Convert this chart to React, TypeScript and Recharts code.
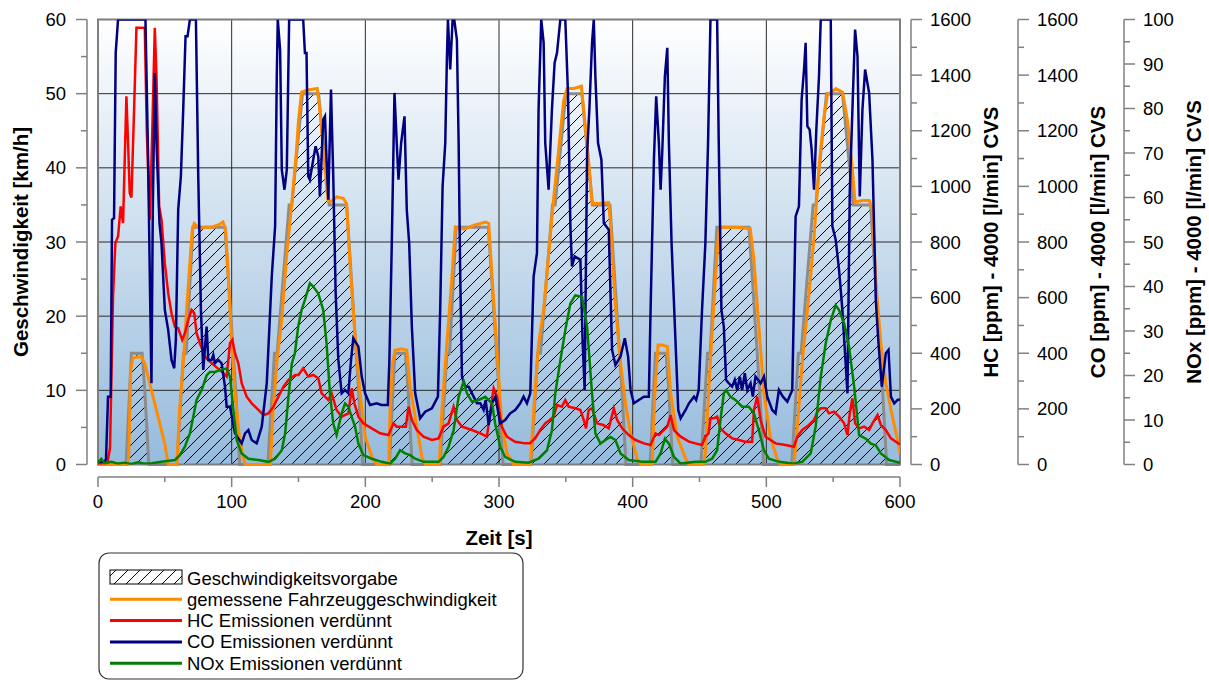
import { ComposedChart, Area, Line, XAxis, YAxis, CartesianGrid, ReferenceArea, Label } from 'recharts'

const AXIS = '#808080'
const FONT = '"Liberation Sans", Arial, sans-serif'
const TICK_SIZE = 18.5
const TITLE_SIZE = 20.5

type Pt = [number, number]

// Geschwindigkeitsvorgabe: Stützpunkte [s, km/h]
const speedTarget: Pt[] = [
  [0, 0], [21, 0], [25, 15], [33, 15], [35, 10], [38, 0], [59, 0], [64, 15], [66, 15], [71, 32], [95, 32], [103, 10],
  [106, 0], [127, 0], [132, 15], [134, 15], [143, 35], [145, 35], [153, 50], [165, 50], [173, 35], [186, 35], [195, 10], [198, 0],
  [218, 0], [222, 15], [230, 15], [232, 10], [235, 0], [256, 0], [261, 15], [263, 15], [268, 32], [292, 32], [300, 10], [303, 0],
  [324, 0], [329, 15], [331, 15], [340, 35], [342, 35], [350, 50], [362, 50], [370, 35], [383, 35], [392, 10], [395, 0],
  [413, 0], [417, 15], [425, 15], [427, 10], [430, 0], [451, 0], [456, 15], [458, 15], [463, 32], [487, 32], [495, 10], [498, 0],
  [519, 0], [524, 15], [526, 15], [535, 35], [537, 35], [545, 50], [557, 50], [565, 35], [578, 35], [587, 10], [590, 0], [600, 0],
]

// gemessene Fahrzeuggeschwindigkeit [km/h]
const speedMeasured: Pt[] = [
  [0, 0], [22, 0], [23, 1], [24.5, 12.7], [26, 14.3], [29, 14.5], [32.5, 14.5], [35, 13.6], [40, 10], [45, 6.4],
  [50, 2.8], [52.5, 0], [59, 0], [61, 7.3], [64, 14.1], [65.5, 18.6], [68, 25.3], [70.5, 31.6], [72, 32.5], [76, 31.8],
  [80, 32], [85, 32], [90, 32.3], [93.5, 32.7], [95.5, 31.6], [97.5, 25.3], [100, 16.3], [102.5, 9.6], [106, 3.3], [110, 0],
  [129, 0], [131, 7.3], [134, 14.1], [137.5, 19.5], [141, 28], [145, 35.2], [148.5, 42.4], [150, 46.4], [152.3, 50.2], [157, 50.5],
  [164, 50.7], [166, 47.8], [168.5, 42.4], [172, 35.6], [174, 35.4], [178.5, 36.1], [183.5, 35.9], [186, 35.2], [188.5, 27.1], [192, 18.1],
  [196, 9.6], [200, 3.7], [205, 1], [208.5, 0], [217.5, 0], [218.5, 7.3], [220.3, 13.6], [222.3, 15.4], [227, 15.6], [231, 15.4],
  [233.5, 10.5], [237.3, 6.4], [242.3, 1], [245, 0], [255.3, 0], [257.3, 7.3], [261, 16.3], [264.8, 25.3], [267.3, 32], [270, 31.8],
  [275, 31.8], [282, 32.3], [290, 32.7], [292.3, 32.5], [294.8, 25.3], [297.3, 18.6], [299, 14], [302, 5.5], [306, 1.5], [311, 0],
  [323.5, 0], [326, 7.3], [329.6, 16.3], [333.4, 20.8], [337, 28], [341, 36.1], [344.6, 42.4], [348.4, 49.1], [351, 50.7], [356, 50.7],
  [361.6, 51], [363.4, 47.8], [367, 41], [369.6, 35.2], [375, 35.2], [382, 35.3], [383.4, 32.5], [387, 21.7], [391, 13.6], [394.6, 8.2],
  [398.4, 4.2], [403.4, 0.8], [406, 0], [414.6, 0], [416.6, 9.6], [419, 16.1], [422, 16.1], [426, 15.9], [428.4, 9.6], [433.4, 3.7],
  [439.6, 0.8], [442, 0], [453, 0], [454.4, 1.5], [458.2, 14.1], [462, 25.3], [464.4, 31.6], [467, 32], [477, 32], [488, 31.8],
  [490.7, 27.6], [494.4, 18.6], [498.2, 9.6], [503, 3.7], [508, 0.8], [510.7, 0], [520.7, 0], [523.2, 5.1], [527, 14.1], [532, 23.1],
  [535.7, 30.7], [539.4, 40.1], [543.2, 46.9], [545.7, 49.8], [552, 50.7], [557, 50.2], [560.7, 46.4], [564.4, 39.7], [566.4, 35.4], [572, 35.6],
  [577, 35.6], [579.4, 34.3], [582, 24.4], [585.7, 16.3], [589.4, 10.9], [594.4, 6.4], [598.2, 3.3], [600, 1.5],
]

// HC verdünnt [ppm]
const hc: Pt[] = [
  [0, 2], [7, 5], [9, 60], [11.25, 604], [13, 796], [15, 820], [17, 928], [18.75, 868], [21.25, 1324], [22.5, 1156],
  [23.75, 976], [25, 960], [27, 1276], [28.75, 1570], [35, 1570], [36.5, 1200], [38.75, 880], [40.5, 1180], [42.5, 1570], [43.75, 1396],
  [45.75, 928], [47.5, 880], [50, 724], [52.5, 616], [55, 544], [57.5, 496], [60, 490], [63, 448], [65, 472], [67.5, 520],
  [70, 556], [72, 545], [73.75, 472], [76.25, 436], [80, 388], [83.75, 370], [88, 352], [92.5, 334], [96.25, 316], [98.75, 436],
  [100.5, 448], [102.5, 400], [105, 364], [107.5, 292], [111.25, 244], [115, 220], [120, 196], [123.75, 178], [127.5, 184], [131.25, 208],
  [135, 244], [138.75, 280], [142.5, 304], [147.5, 322], [150, 322], [153.5, 346], [157.3, 316], [161, 322], [164.8, 310], [167.3, 256],
  [172.3, 232], [174.8, 256], [178.5, 196], [182.3, 172], [187.3, 184], [189.8, 274], [191.8, 220], [194.8, 172], [198.5, 148], [204.8, 130],
  [211, 112], [217.3, 106], [221, 148], [223.5, 136], [230.3, 136], [232.3, 208], [234.8, 160], [238.5, 124], [243.5, 100], [249.8, 88],
  [254.8, 94], [258.5, 136], [262.3, 148], [266, 208], [268.5, 160], [272.3, 136], [279.8, 124], [286, 112], [291, 100], [292.3, 148],
  [296, 274], [298.5, 244], [300, 200], [302, 136], [305.9, 100], [312, 82], [319.6, 76], [323, 76], [327, 94], [330.9, 124],
  [334.6, 148], [338, 160], [340.9, 172], [343.4, 214], [347.1, 208], [349.6, 232], [352.1, 208], [357.1, 202], [360.9, 196], [363.4, 160],
  [365.1, 130], [367.1, 196], [369.6, 202], [373.4, 148], [378, 142], [382.1, 130], [385.9, 202], [388.4, 160], [392.1, 130], [397.1, 106],
  [402.1, 88], [408.4, 76], [413.4, 70], [417.1, 112], [419.6, 106], [422.1, 118], [425.9, 136], [428.4, 178], [430.9, 124], [435.9, 100],
  [442.1, 82], [446.9, 76], [451.9, 70], [454.4, 100], [456.8, 112], [458.2, 166], [460.7, 166], [463.2, 172], [465.7, 130], [469.4, 112],
  [474.4, 94], [479.4, 88], [484, 82], [489.4, 82], [490.7, 196], [493.2, 244], [495.7, 160], [499.4, 100], [506.9, 76], [514.4, 70],
  [520.7, 64], [523.2, 100], [526.9, 124], [531.9, 142], [535.7, 160], [538.2, 190], [540.7, 202], [544.4, 202], [546.9, 184], [550.6, 190],
  [554.4, 172], [558.2, 148], [560.7, 106], [562.4, 184], [564.4, 238], [566.4, 148], [569.4, 130], [573.2, 136], [576.9, 124], [579.4, 148],
  [583.2, 178], [585.7, 142], [589.4, 124], [593.2, 94], [596.9, 82], [600, 72],
]

// CO verdünnt [ppm], Anzeige begrenzt auf 1600
const co: Pt[] = [
  [0, 10], [5, 10], [6, 20], [7.5, 244], [9.5, 244], [10.5, 880], [12, 886], [13.25, 1480], [15, 1600], [35.5, 1600],
  [37.5, 1096], [39, 600], [40, 292], [41, 916], [42.5, 1408], [43.75, 1156], [46, 868], [47.5, 796], [50, 556], [52.5, 484],
  [55, 376], [57, 346], [58.25, 448], [60, 916], [62, 1036], [63.75, 1276], [65.5, 1540], [67, 1540], [68.75, 1600], [73.25, 1600],
  [75, 1036], [77, 556], [78.75, 340], [81.25, 496], [82.5, 376], [85, 376], [86.25, 394], [87.5, 364], [90, 376], [92.5, 364],
  [95, 280], [96.25, 208], [98.75, 208], [102.5, 112], [107.5, 76], [110, 112], [112.5, 124], [115, 88], [118.75, 76], [122.5, 136],
  [126.25, 292], [130, 676], [132.5, 856], [133.75, 1396], [134.5, 1600], [136.25, 1490], [137.5, 1060], [139.5, 988], [141.25, 1060], [143, 1600],
  [153.5, 1600], [154.8, 1480], [156, 1480], [157.3, 1036], [158.5, 1024], [161, 1096], [162.8, 1144], [164.8, 1108], [166, 964], [168.5, 1240],
  [169.8, 1252], [171, 1096], [172.3, 952], [174.3, 1348], [176, 1036], [177.8, 616], [179.8, 376], [182.3, 256], [184.8, 268], [187.3, 256],
  [189.3, 376], [191, 454], [194.8, 424], [197.3, 316], [199.8, 256], [203.5, 214], [208.5, 220], [212, 214], [216.8, 214], [218, 376],
  [219.8, 796], [221.8, 1336], [223.5, 1156], [224.8, 1024], [226.8, 1156], [229.3, 1252], [231, 916], [232.8, 796], [234.8, 496], [237.3, 256],
  [241, 166], [244.8, 190], [249.8, 202], [254.3, 244], [256, 556], [257.8, 1000], [259.8, 1156], [261, 1456], [261.8, 1600], [263.5, 1420],
  [265.3, 1600], [266.5, 1600], [268.5, 1528], [269.8, 1156], [271, 676], [272.3, 316], [274.8, 280], [277.3, 280], [281, 244], [283.5, 220],
  [286, 220], [288.5, 196], [290, 232], [292.3, 142], [294.8, 220], [297.3, 244], [300.9, 148], [304.6, 160], [308.4, 184], [312.1, 196],
  [315.9, 220], [318.4, 244], [320.9, 220], [323.4, 256], [325.9, 676], [328.4, 760], [329.6, 1276], [331.6, 1600], [333.4, 1516], [334.6, 1156],
  [337.1, 988], [339.6, 1276], [341.6, 1444], [343.4, 1480], [345.9, 1600], [349.6, 1600], [351.6, 1336], [353.4, 856], [354.6, 712], [356.6, 748],
  [360.9, 736], [362.6, 436], [364.1, 268], [365.9, 1120], [367.6, 1276], [369.6, 1516], [370.9, 1600], [372.1, 1396], [374.1, 1156], [376.6, 1096],
  [378.4, 868], [382.1, 844], [384.6, 412], [387.1, 358], [390.9, 388], [394.1, 454], [396.6, 388], [398.4, 268], [400.9, 220], [404.6, 232],
  [408.4, 244], [412.1, 244], [413.4, 556], [415.9, 1096], [417.6, 1324], [419.6, 1156], [420.9, 988], [422.1, 1120], [424.1, 1396], [425.9, 1498],
  [427.1, 1156], [429.1, 796], [432.1, 436], [434.1, 196], [435.9, 166], [439.6, 196], [442.1, 220], [445.9, 244], [447.5, 232], [449.4, 268],
  [451.9, 556], [454.4, 796], [456.4, 1156], [458.2, 1600], [463.2, 1600], [464.4, 1156], [466.4, 556], [468.2, 496], [469.9, 304], [471.9, 292],
  [474.4, 280], [476.4, 304], [478.2, 268], [480.2, 316], [481.9, 268], [483.9, 328], [485.7, 268], [488.2, 292], [489.9, 244], [491.9, 316],
  [493.9, 304], [495.7, 292], [498.2, 316], [500.7, 244], [504.4, 196], [506.9, 184], [509.4, 268], [512.4, 244], [515.7, 226], [519.4, 268],
  [521.9, 892], [524.4, 928], [526.4, 1312], [528.2, 1420], [529.4, 1516], [530.7, 1216], [532.4, 1204], [533.9, 1132], [535.7, 988], [537.4, 1204],
  [539.4, 1396], [540.7, 1600], [548.2, 1600], [549.4, 856], [551.9, 808], [554.4, 700], [556.9, 556], [560.7, 256], [562.4, 976], [564.4, 1276],
  [566.4, 1564], [568.2, 1468], [569.9, 964], [571.9, 1276], [573.9, 1420], [576.9, 1336], [579.4, 1096], [581.9, 592], [583.9, 436], [586.4, 280],
  [589.4, 400], [591.4, 412], [593.2, 244], [595.7, 220], [598.2, 232], [600, 234],
]

// NOx verdünnt [ppm]
const nox: Pt[] = [
  [0, 0.4], [2.5, 1.3], [5, 0.3], [10, 0.6], [15, 0.2], [20, 0.4], [25, 0.1], [30, 0.5], [35, 0.2], [40, 0.3],
  [47.5, 0.6], [52, 0.8], [57.5, 1], [61.25, 2.1], [65, 4], [68.75, 7], [71.25, 10.7], [73.75, 14.5], [77.5, 16.7], [81.25, 20],
  [83.75, 20.8], [87.5, 20.8], [91.25, 21.2], [96.25, 21.6], [98.75, 19.7], [101.25, 12.2], [103.75, 5.5], [107.5, 2.5], [112.5, 1.3], [120, 1],
  [127.5, 0.6], [132.5, 1.3], [137.5, 3.2], [140, 7], [142.5, 15.2], [145, 22.7], [147.3, 25], [149.8, 31], [152.3, 34.7], [154.8, 37],
  [158.5, 40.7], [161, 40], [164.8, 38.4], [168.5, 34.7], [171, 27.2], [173.5, 16], [176, 9.2], [178.5, 6.6], [182.3, 11.5], [184.8, 13.7],
  [187.3, 13], [189.8, 10.7], [192.3, 8.5], [194.8, 4.7], [198.5, 2.1], [204.8, 1.3], [212.3, 0.6], [218.5, 0.2], [222.3, 1.3], [226, 3.2],
  [229.8, 2.5], [233.5, 2.1], [237.3, 1.3], [243.5, 0.6], [254.8, 0.6], [258.5, 1.7], [262.3, 4], [266, 7.7], [269.8, 15.2], [273.5, 18.6],
  [276, 16], [279.8, 14.1], [284.8, 14.5], [289.8, 15.2], [294.8, 13.7], [297.1, 9.2], [300.9, 4], [304.6, 1.7], [312.1, 0.6], [322.1, 0.4],
  [329.6, 1.3], [335.9, 3.2], [339.6, 7.7], [342.1, 16], [345.9, 23.4], [349.6, 30.2], [353.4, 36.2], [357.1, 38], [362.1, 37.7], [365.9, 31],
  [369.6, 16], [372.1, 7], [375.9, 4.7], [379.6, 5.5], [383.4, 6.2], [387.1, 5.5], [390.9, 2.5], [397.1, 1], [407.1, 0.6], [417.1, 0.6],
  [420.9, 2.5], [424.1, 5.8], [427.1, 4.7], [430.9, 1.7], [435.9, 0.2], [446.9, 0.6], [454.4, 0.6], [459.4, 1.3], [463.2, 3.2], [465.7, 10],
  [468.2, 16], [469.9, 16.7], [473.2, 15.2], [476.9, 14.5], [481.9, 13], [486.9, 13], [490.7, 11.5], [494.4, 7.7], [498.2, 3.2], [501.9, 1.3],
  [509.4, 0.6], [519.4, 0.2], [526.9, 0.6], [533.2, 2.5], [536.9, 8.5], [540.7, 19.7], [544.4, 27.2], [548.2, 32.4], [551.9, 35.8], [554.4, 34.7],
  [558.2, 31.7], [561.9, 26.4], [565.7, 17.5], [569.4, 6.6], [574.4, 5.8], [578.2, 4.7], [581.9, 4.3], [585.7, 2.5], [591.9, 1], [600, 0.4],
]

const timeTicks = [0, 50, 100, 150, 200, 250, 300, 350, 400, 450, 500, 550, 600]
const speedTicks = [0, 5, 10, 15, 20, 25, 30, 35, 40, 45, 50, 55, 60]
const ppmTicks = [0, 100, 200, 300, 400, 500, 600, 700, 800, 900, 1000, 1100, 1200, 1300, 1400, 1500, 1600]
const noxTicks = [0, 5, 10, 15, 20, 25, 30, 35, 40, 45, 50, 55, 60, 65, 70, 75, 80, 85, 90, 95, 100]
const gridRows = [10, 20, 30, 40, 50]
const gridCols = [100, 200, 300, 400, 500]

const legendItems = [
  { label: 'Geschwindigkeitsvorgabe', color: null },
  { label: 'gemessene Fahrzeuggeschwindigkeit', color: '#ff8c00' },
  { label: 'HC Emissionen verdünnt', color: '#ff0000' },
  { label: 'CO Emissionen verdünnt', color: '#000080' },
  { label: 'NOx Emissionen verdünnt', color: '#008000' },
]

// axis ids sort in stacking order (plot edge outwards)
const ID_GAP_L = 'l0_gap'
const ID_SPEED = 'l1_speed'
const ID_GAP_R = 'r0_gap'
const ID_HC = 'r1_hc'
const ID_CO = 'r2_co'
const ID_NOX = 'r3_nox'
const ID_GAP_X = 'x0_gap'
const ID_TIME = 'x1_time'

const UNIT_DOMAIN: [number, number] = [0, 1]
const TIME_DOMAIN: [number, number] = [0, 600]
const SPEED_DOMAIN: [number, number] = [0, 60]
const PPM_DOMAIN: [number, number] = [0, 1600]
const NOX_DOMAIN: [number, number] = [0, 100]
const AXIS_LINE = { stroke: AXIS, strokeWidth: 1.5 }

const toRows = (pts: Pt[]) => pts.map(([t, v]) => ({ t, v }))
const targetRows = toRows(speedTarget)
const measuredRows = toRows(speedMeasured)
const hcRows = toRows(hc)
const coRows = toRows(co)
const noxRows = toRows(nox)

function makeYTick(side: 'left' | 'right', majorStep: number) {
  const dir = side === 'left' ? -1 : 1
  return function YTick(props: any) {
    const { x, y, payload } = props
    const major = payload.value % majorStep === 0
    return (
      <g>
        <line x1={x} x2={x + dir * (major ? 11 : 6)} y1={y} y2={y} stroke={AXIS} strokeWidth={1.5} />
        {major && (
          <text
            x={x + dir * (side === 'left' ? 21 : 19)}
            y={y}
            textAnchor={side === 'left' ? 'end' : 'start'}
            dominantBaseline="central"
            fontSize={TICK_SIZE}
            fontFamily={FONT}
            fill="#000"
          >
            {payload.value}
          </text>
        )}
      </g>
    )
  }
}

const SpeedTick = makeYTick('left', 10)
const PpmTick = makeYTick('right', 200)
const NoxTick = makeYTick('right', 10)

function XTick(props: any) {
  const { x, y, payload } = props
  const major = payload.value % 100 === 0
  return (
    <g>
      <line x1={x} x2={x} y1={y} y2={y + (major ? 10 : 5)} stroke={AXIS} strokeWidth={1.5} />
      {major && (
        <text x={x} y={y + 24} textAnchor="middle" dominantBaseline="central" fontSize={TICK_SIZE} fontFamily={FONT} fill="#000">
          {payload.value}
        </text>
      )}
    </g>
  )
}

function verticalTitle(text: string, dx: number) {
  return (p: any) => {
    const vb = p.viewBox
    const cx = vb.x + dx
    const cy = vb.y + vb.height / 2
    return (
      <text
        x={cx}
        y={cy}
        transform={`rotate(-90 ${cx} ${cy})`}
        textAnchor="middle"
        dominantBaseline="central"
        fontSize={TITLE_SIZE}
        fontWeight="bold"
        fontFamily={FONT}
        fill="#000"
      >
        {text}
      </text>
    )
  }
}

const speedTitle = verticalTitle('Geschwindigkeit [km/h]', 20)
const hcTitle = verticalTitle('HC [ppm] - 4000 [l/min] CVS', 79)
const coTitle = verticalTitle('CO [ppm] - 4000 [l/min] CVS', 79)
const noxTitle = verticalTitle('NOx [ppm] - 4000 [l/min] CVS', 69)

function timeTitle(p: any) {
  return (
    <text
      x={p.viewBox.x + p.viewBox.width / 2}
      y={p.viewBox.y + 60}
      textAnchor="middle"
      dominantBaseline="central"
      fontSize={TITLE_SIZE}
      fontWeight="bold"
      fontFamily={FONT}
    >
      Zeit [s]
    </text>
  )
}

function LegendBox() {
  return (
    <svg width={426} height={128} style={{ position: 'absolute', left: 98, top: 552 }}>
      <defs>
        <pattern id="hatchKey" width="12" height="12" patternUnits="userSpaceOnUse">
          <path d="M0,12 L12,0 M-3,3 L3,-3 M9,15 L15,9" stroke="#000" strokeWidth={1} />
        </pattern>
      </defs>
      <rect x={1} y={1} width={424} height={126} rx={10} fill="#fff" stroke="#333" strokeWidth={1.2} />
      {legendItems.map((item, i) => {
        const cy = 25 + i * 21.3
        return (
          <g key={item.label}>
            {item.color ? (
              <line x1={12} x2={84} y1={cy + 1} y2={cy + 1} stroke={item.color} strokeWidth={3} />
            ) : (
              <rect x={12} y={cy - 7} width={72} height={14} fill="url(#hatchKey)" stroke="#000" strokeWidth={1} />
            )}
            <text x={89} y={cy + 1} dominantBaseline="central" fontSize={TICK_SIZE} fontFamily={FONT} fill="#000">
              {item.label}
            </text>
          </g>
        )
      })}
    </svg>
  )
}

export default function App() {
  return (
    <div style={{ position: 'absolute', left: 0, top: 0, width: 1209, height: 680, background: '#fff' }}>
      <ComposedChart width={1209} height={680} margin={{ top: 19.5, right: 0, bottom: 133, left: 0 }}>
        <defs>
          <linearGradient id="plotBg" x1="0" y1="0" x2="0" y2="1">
            <stop offset="0%" stopColor="#ffffff" />
            <stop offset="100%" stopColor="#96bbdc" />
          </linearGradient>
          <pattern id="hatch" width="12" height="12" patternUnits="userSpaceOnUse">
            <path d="M0,12 L12,0 M-3,3 L3,-3 M9,15 L15,9" stroke="#000" strokeWidth={1} />
          </pattern>
        </defs>

        {/* spacer axes keep the drawn axis lines clear of the plot frame */}
        <XAxis xAxisId={ID_GAP_X} type="number" domain={UNIT_DOMAIN} height={12.5} tick={false} axisLine={false} tickLine={false} />
        <XAxis
          xAxisId={ID_TIME}
          type="number"
          dataKey="t"
          domain={TIME_DOMAIN}
          ticks={timeTicks}
          interval={0}
          height={70}
          tick={XTick}
          tickLine={false}
          tickSize={0}
          tickMargin={0}
          axisLine={AXIS_LINE}
          allowDataOverflow
        >
          <Label content={timeTitle} />
        </XAxis>

        <YAxis yAxisId={ID_GAP_L} orientation="left" width={11} domain={UNIT_DOMAIN} tick={false} axisLine={false} tickLine={false} />
        <YAxis
          yAxisId={ID_SPEED}
          orientation="left"
          width={87}
          domain={SPEED_DOMAIN}
          ticks={speedTicks}
          interval={0}
          tick={SpeedTick}
          tickLine={false}
          tickSize={0}
          tickMargin={0}
          axisLine={AXIS_LINE}
        >
          <Label content={speedTitle} />
        </YAxis>

        <YAxis yAxisId={ID_GAP_R} orientation="right" width={11} domain={UNIT_DOMAIN} tick={false} axisLine={false} tickLine={false} />
        <YAxis
          yAxisId={ID_HC}
          orientation="right"
          width={107}
          domain={PPM_DOMAIN}
          ticks={ppmTicks}
          interval={0}
          tick={PpmTick}
          tickLine={false}
          tickSize={0}
          tickMargin={0}
          axisLine={AXIS_LINE}
          allowDataOverflow
        >
          <Label content={hcTitle} />
        </YAxis>
        <YAxis
          yAxisId={ID_CO}
          orientation="right"
          width={106}
          domain={PPM_DOMAIN}
          ticks={ppmTicks}
          interval={0}
          tick={PpmTick}
          tickLine={false}
          tickSize={0}
          tickMargin={0}
          axisLine={AXIS_LINE}
          allowDataOverflow
        >
          <Label content={coTitle} />
        </YAxis>
        <YAxis
          yAxisId={ID_NOX}
          orientation="right"
          width={85}
          domain={NOX_DOMAIN}
          ticks={noxTicks}
          interval={0}
          tick={NoxTick}
          tickLine={false}
          tickSize={0}
          tickMargin={0}
          axisLine={AXIS_LINE}
          allowDataOverflow
        >
          <Label content={noxTitle} />
        </YAxis>

        <CartesianGrid
          xAxisId={ID_TIME}
          yAxisId={ID_SPEED}
          fill="url(#plotBg)"
          fillOpacity={1}
          stroke="#2a2a2a"
          strokeWidth={1}
          horizontalValues={gridRows}
          verticalValues={gridCols}
        />

        <Area
          xAxisId={ID_TIME}
          yAxisId={ID_SPEED}
          data={targetRows}
          dataKey="v"
          type="linear"
          fill="url(#hatch)"
          fillOpacity={1}
          stroke="#8c8c8c"
          strokeWidth={3}
          isAnimationActive={false}
        />
        <Line xAxisId={ID_TIME} yAxisId={ID_SPEED} data={measuredRows} dataKey="v" type="linear" stroke="#ff8c00" strokeWidth={3} dot={false} isAnimationActive={false} />
        <Line xAxisId={ID_TIME} yAxisId={ID_HC} data={hcRows} dataKey="v" type="linear" stroke="#ff0000" strokeWidth={2.5} dot={false} isAnimationActive={false} />
        <Line xAxisId={ID_TIME} yAxisId={ID_CO} data={coRows} dataKey="v" type="linear" stroke="#000080" strokeWidth={2.5} dot={false} isAnimationActive={false} />
        <Line xAxisId={ID_TIME} yAxisId={ID_NOX} data={noxRows} dataKey="v" type="linear" stroke="#008000" strokeWidth={2.5} dot={false} isAnimationActive={false} />

        <ReferenceArea xAxisId={ID_TIME} yAxisId={ID_SPEED} x1={0} x2={600} y1={0} y2={60} fill="none" stroke="#7f7f7f" strokeWidth={2} />
      </ComposedChart>
      <LegendBox />
    </div>
  )
}
